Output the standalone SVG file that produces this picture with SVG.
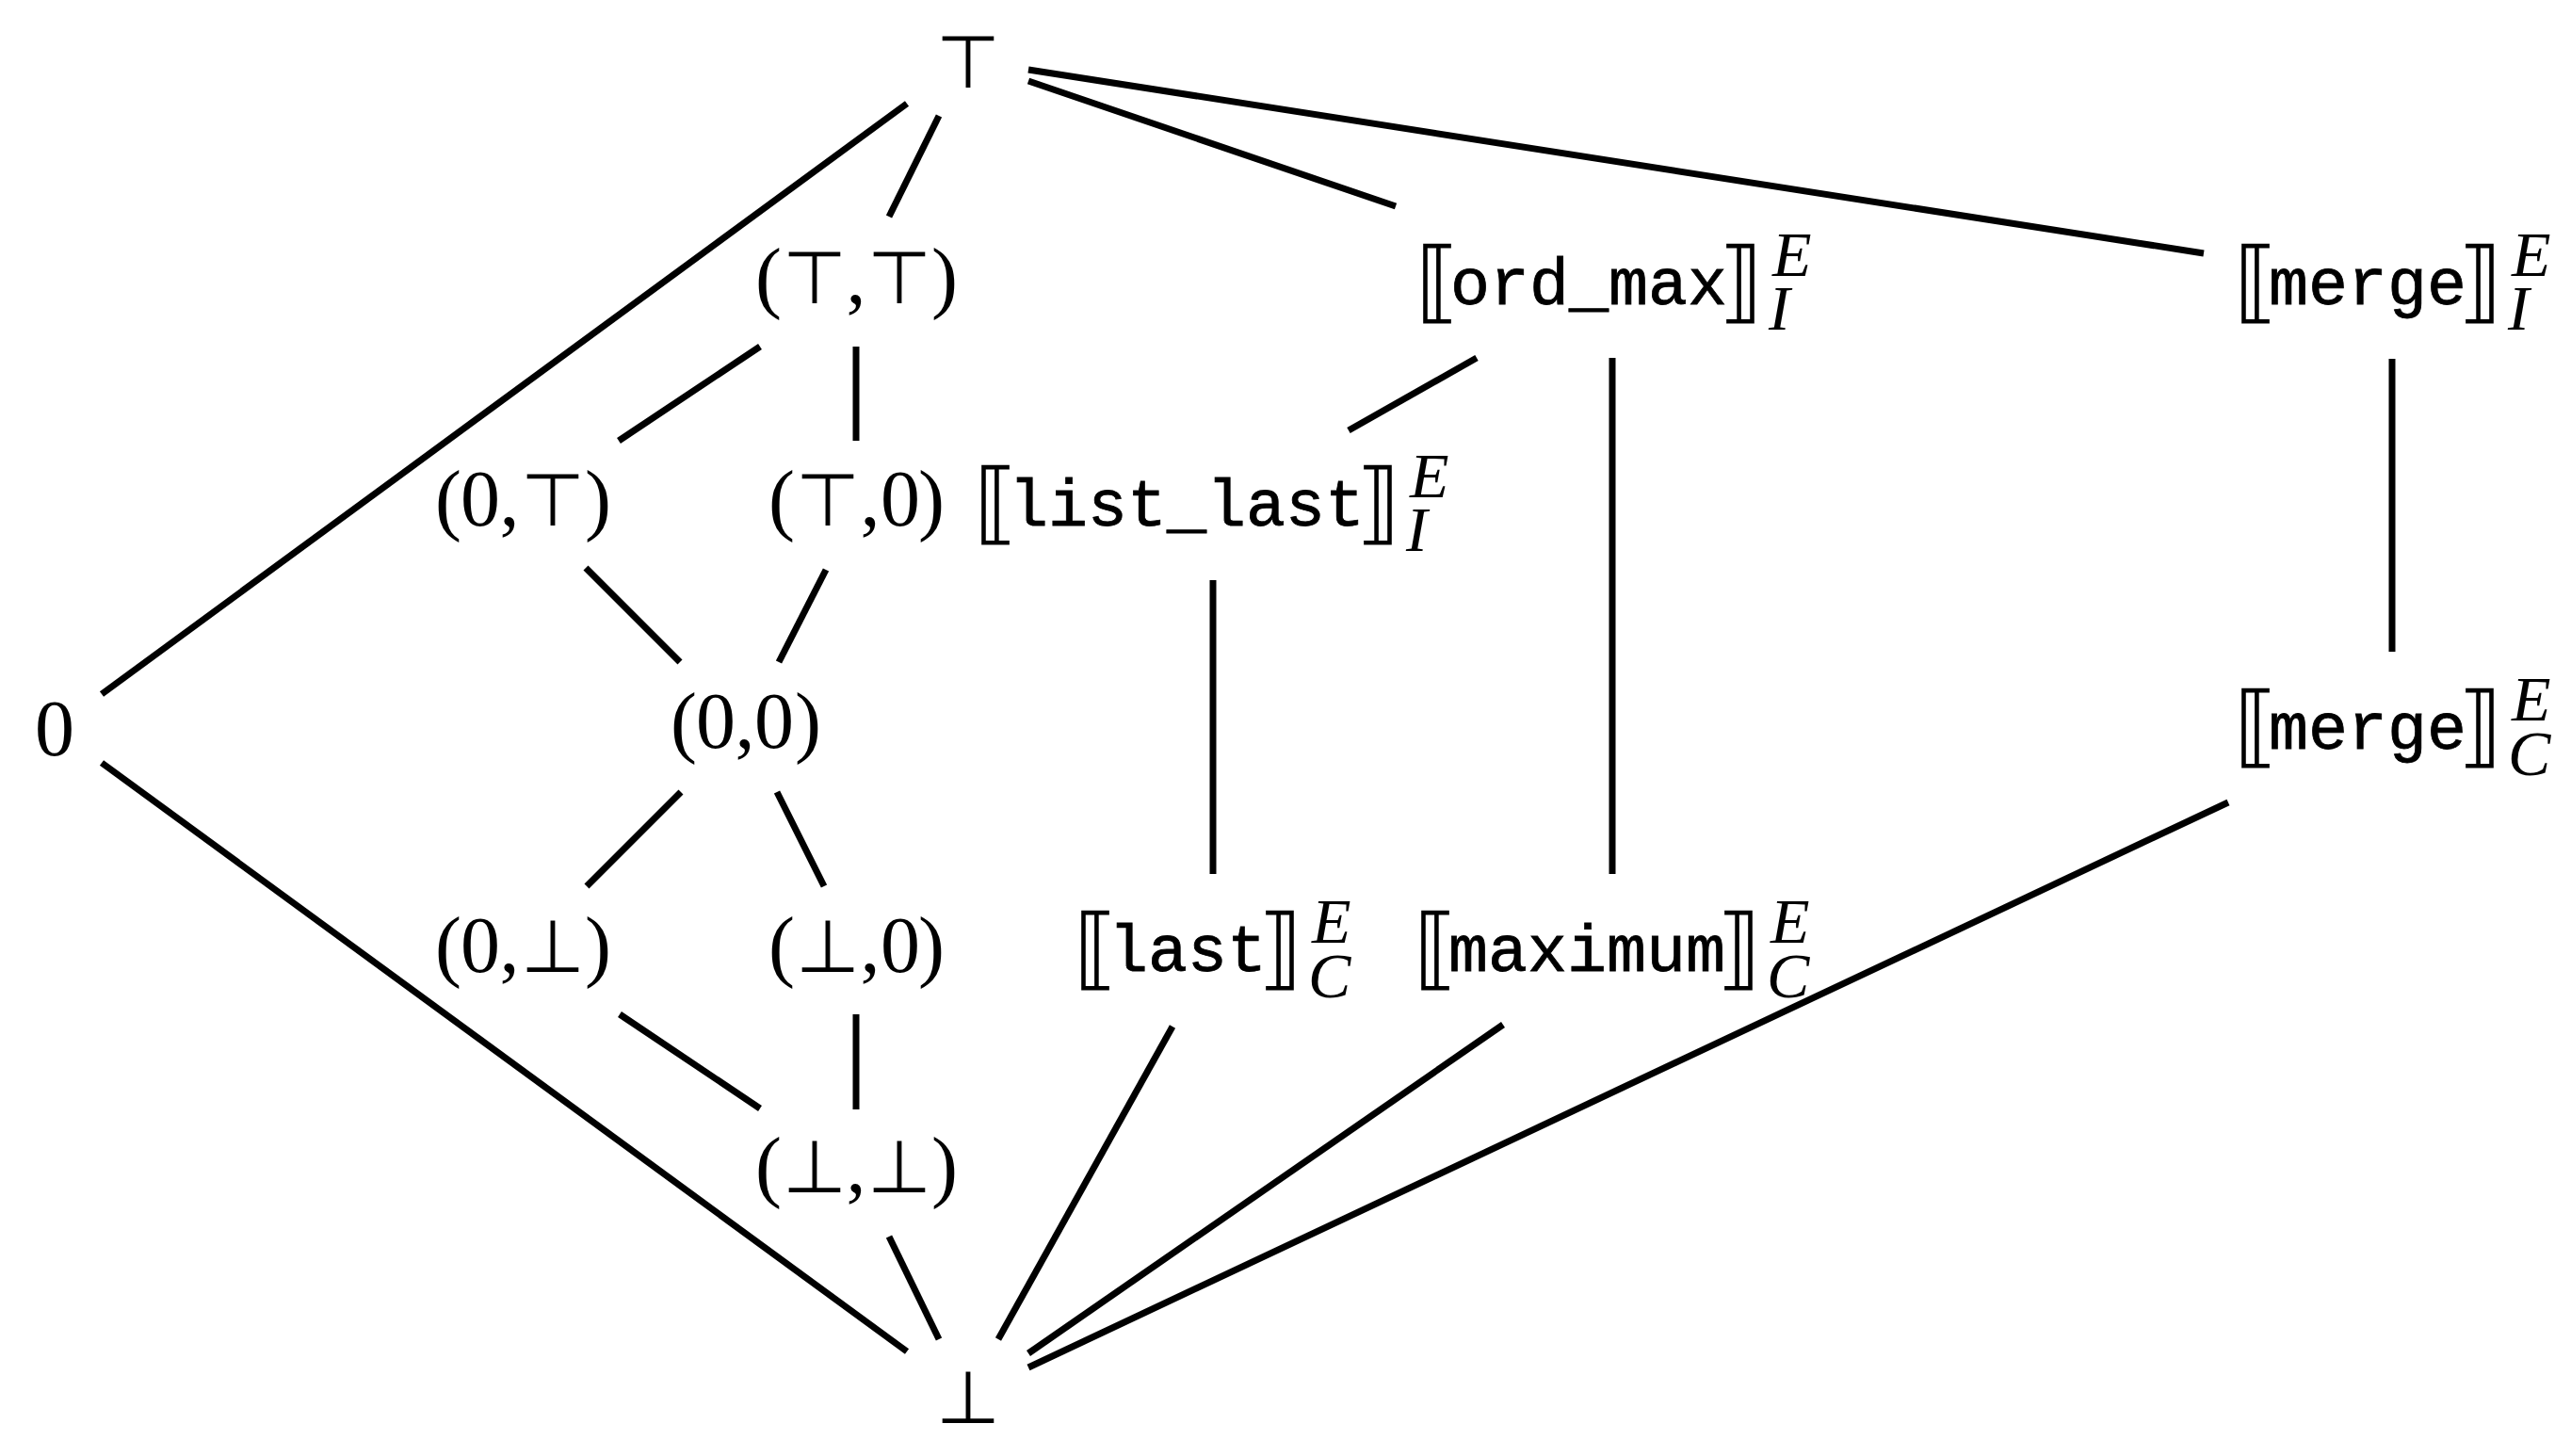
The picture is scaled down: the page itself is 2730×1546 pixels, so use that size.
<svg xmlns="http://www.w3.org/2000/svg" width="2730" height="1546" viewBox="0 0 2730 1546">
<style>
.l{stroke:#000;stroke-width:7;fill:none;stroke-linecap:butt}
text{fill:#000}
.m{font-family:"Liberation Serif","DejaVu Serif",serif;font-size:84px;text-anchor:middle}
.s{font-family:"DejaVu Sans",sans-serif;font-size:78px;font-weight:200;text-anchor:middle}
.b{font-family:"DejaVu Sans",sans-serif;font-size:95px;font-weight:200;text-anchor:start}
.be{font-family:"DejaVu Sans",sans-serif;font-size:95px;font-weight:200;text-anchor:end}
.t{font-family:"Liberation Mono","DejaVu Sans Mono",monospace;font-size:70px;text-anchor:start;stroke:#000;stroke-width:0.8}
.sc{font-family:"Liberation Serif","DejaVu Serif",serif;font-style:italic;font-size:68px;text-anchor:start;stroke:none}
</style>
<rect width="2730" height="1546" fill="#fff"/>
<g id="connectors">
<line class="l" x1="963" y1="110" x2="108" y2="737"/>
<line class="l" x1="997" y1="123" x2="944" y2="230"/>
<line class="l" x1="1092" y1="86" x2="1482" y2="219"/>
<line class="l" x1="1092" y1="74" x2="2340" y2="269"/>
<line class="l" x1="807" y1="368" x2="657" y2="468"/>
<line class="l" x1="909" y1="368" x2="909" y2="468"/>
<line class="l" x1="1568" y1="380" x2="1432" y2="457"/>
<line class="l" x1="1712" y1="380" x2="1712" y2="928"/>
<line class="l" x1="2540" y1="381" x2="2540" y2="692"/>
<line class="l" x1="622" y1="603" x2="722" y2="703"/>
<line class="l" x1="877" y1="605" x2="827" y2="703"/>
<line class="l" x1="1288" y1="616" x2="1288" y2="928"/>
<line class="l" x1="108" y1="810" x2="963" y2="1435"/>
<line class="l" x1="723" y1="841" x2="623" y2="941"/>
<line class="l" x1="825" y1="841" x2="875" y2="941"/>
<line class="l" x1="658" y1="1077" x2="807" y2="1177"/>
<line class="l" x1="909" y1="1077" x2="909" y2="1178"/>
<line class="l" x1="944" y1="1313" x2="997" y2="1422"/>
<line class="l" x1="1245" y1="1090" x2="1060" y2="1422"/>
<line class="l" x1="1596" y1="1088" x2="1092" y2="1437"/>
<line class="l" x1="2366" y1="852" x2="1092" y2="1452"/>
</g>
<g id="top"><text class="s" x="1028" y="93">⊤</text></g>
<g id="n_tt">
<text class="m" y="322"><tspan x="816">(</tspan><tspan class="s" x="865">⊤</tspan><tspan x="909">,</tspan><tspan class="s" x="955">⊤</tspan><tspan x="1003">)</tspan></text>
</g>
<g id="n_ordmax">
<text><tspan class="b" x="1503" y="331">⟦</tspan><tspan class="t" x="1540" y="323">ord_max</tspan><tspan class="be" x="1872" y="331">⟧</tspan><tspan class="sc" x="1882" y="293">E</tspan><tspan class="sc" x="1878" y="350">I</tspan></text>
</g>
<g id="n_mergeI">
<text><tspan class="b" x="2372" y="331">⟦</tspan><tspan class="t" x="2409" y="323">merge</tspan><tspan class="be" x="2657" y="331">⟧</tspan><tspan class="sc" x="2667" y="293">E</tspan><tspan class="sc" x="2663" y="350">I</tspan></text>
</g>
<g id="n_0t">
<text class="m" y="558"><tspan x="476">(</tspan><tspan x="510">0</tspan><tspan x="541">,</tspan><tspan class="s" x="587">⊤</tspan><tspan x="635">)</tspan></text>
</g>
<g id="n_t0">
<text class="m" y="558"><tspan x="830">(</tspan><tspan class="s" x="879">⊤</tspan><tspan x="924">,</tspan><tspan x="956">0</tspan><tspan x="989">)</tspan></text>
</g>
<g id="n_listlast">
<text><tspan class="b" x="1034" y="566">⟦</tspan><tspan class="t" x="1071" y="558">list_last</tspan><tspan class="be" x="1487" y="566">⟧</tspan><tspan class="sc" x="1497" y="528">E</tspan><tspan class="sc" x="1493" y="585">I</tspan></text>
</g>
<g id="n_zero"><text class="m" x="58" y="802">0</text></g>
<g id="n_00">
<text class="m" y="794"><tspan x="726">(</tspan><tspan x="760">0</tspan><tspan x="791">,</tspan><tspan x="822">0</tspan><tspan x="858">)</tspan></text>
</g>
<g id="n_mergeC">
<text><tspan class="b" x="2372" y="803">⟦</tspan><tspan class="t" x="2409" y="795">merge</tspan><tspan class="be" x="2657" y="803">⟧</tspan><tspan class="sc" x="2667" y="765">E</tspan><tspan class="sc" x="2663" y="823">C</tspan></text>
</g>
<g id="n_0b">
<text class="m" y="1032"><tspan x="476">(</tspan><tspan x="510">0</tspan><tspan x="541">,</tspan><tspan class="s" x="587">⊥</tspan><tspan x="635">)</tspan></text>
</g>
<g id="n_b0">
<text class="m" y="1032"><tspan x="830">(</tspan><tspan class="s" x="879">⊥</tspan><tspan x="924">,</tspan><tspan x="956">0</tspan><tspan x="989">)</tspan></text>
</g>
<g id="n_last">
<text><tspan class="b" x="1140" y="1039">⟦</tspan><tspan class="t" x="1177" y="1031">last</tspan><tspan class="be" x="1383" y="1039">⟧</tspan><tspan class="sc" x="1393" y="1001">E</tspan><tspan class="sc" x="1389" y="1059">C</tspan></text>
</g>
<g id="n_maximum">
<text><tspan class="b" x="1501" y="1039">⟦</tspan><tspan class="t" x="1538" y="1031">maximum</tspan><tspan class="be" x="1870" y="1039">⟧</tspan><tspan class="sc" x="1880" y="1001">E</tspan><tspan class="sc" x="1876" y="1059">C</tspan></text>
</g>
<g id="n_bb">
<text class="m" y="1266"><tspan x="816">(</tspan><tspan class="s" x="865">⊥</tspan><tspan x="909">,</tspan><tspan class="s" x="955">⊥</tspan><tspan x="1003">)</tspan></text>
</g>
<g id="bottom"><text class="s" x="1028" y="1511">⊥</text></g>
</svg>
